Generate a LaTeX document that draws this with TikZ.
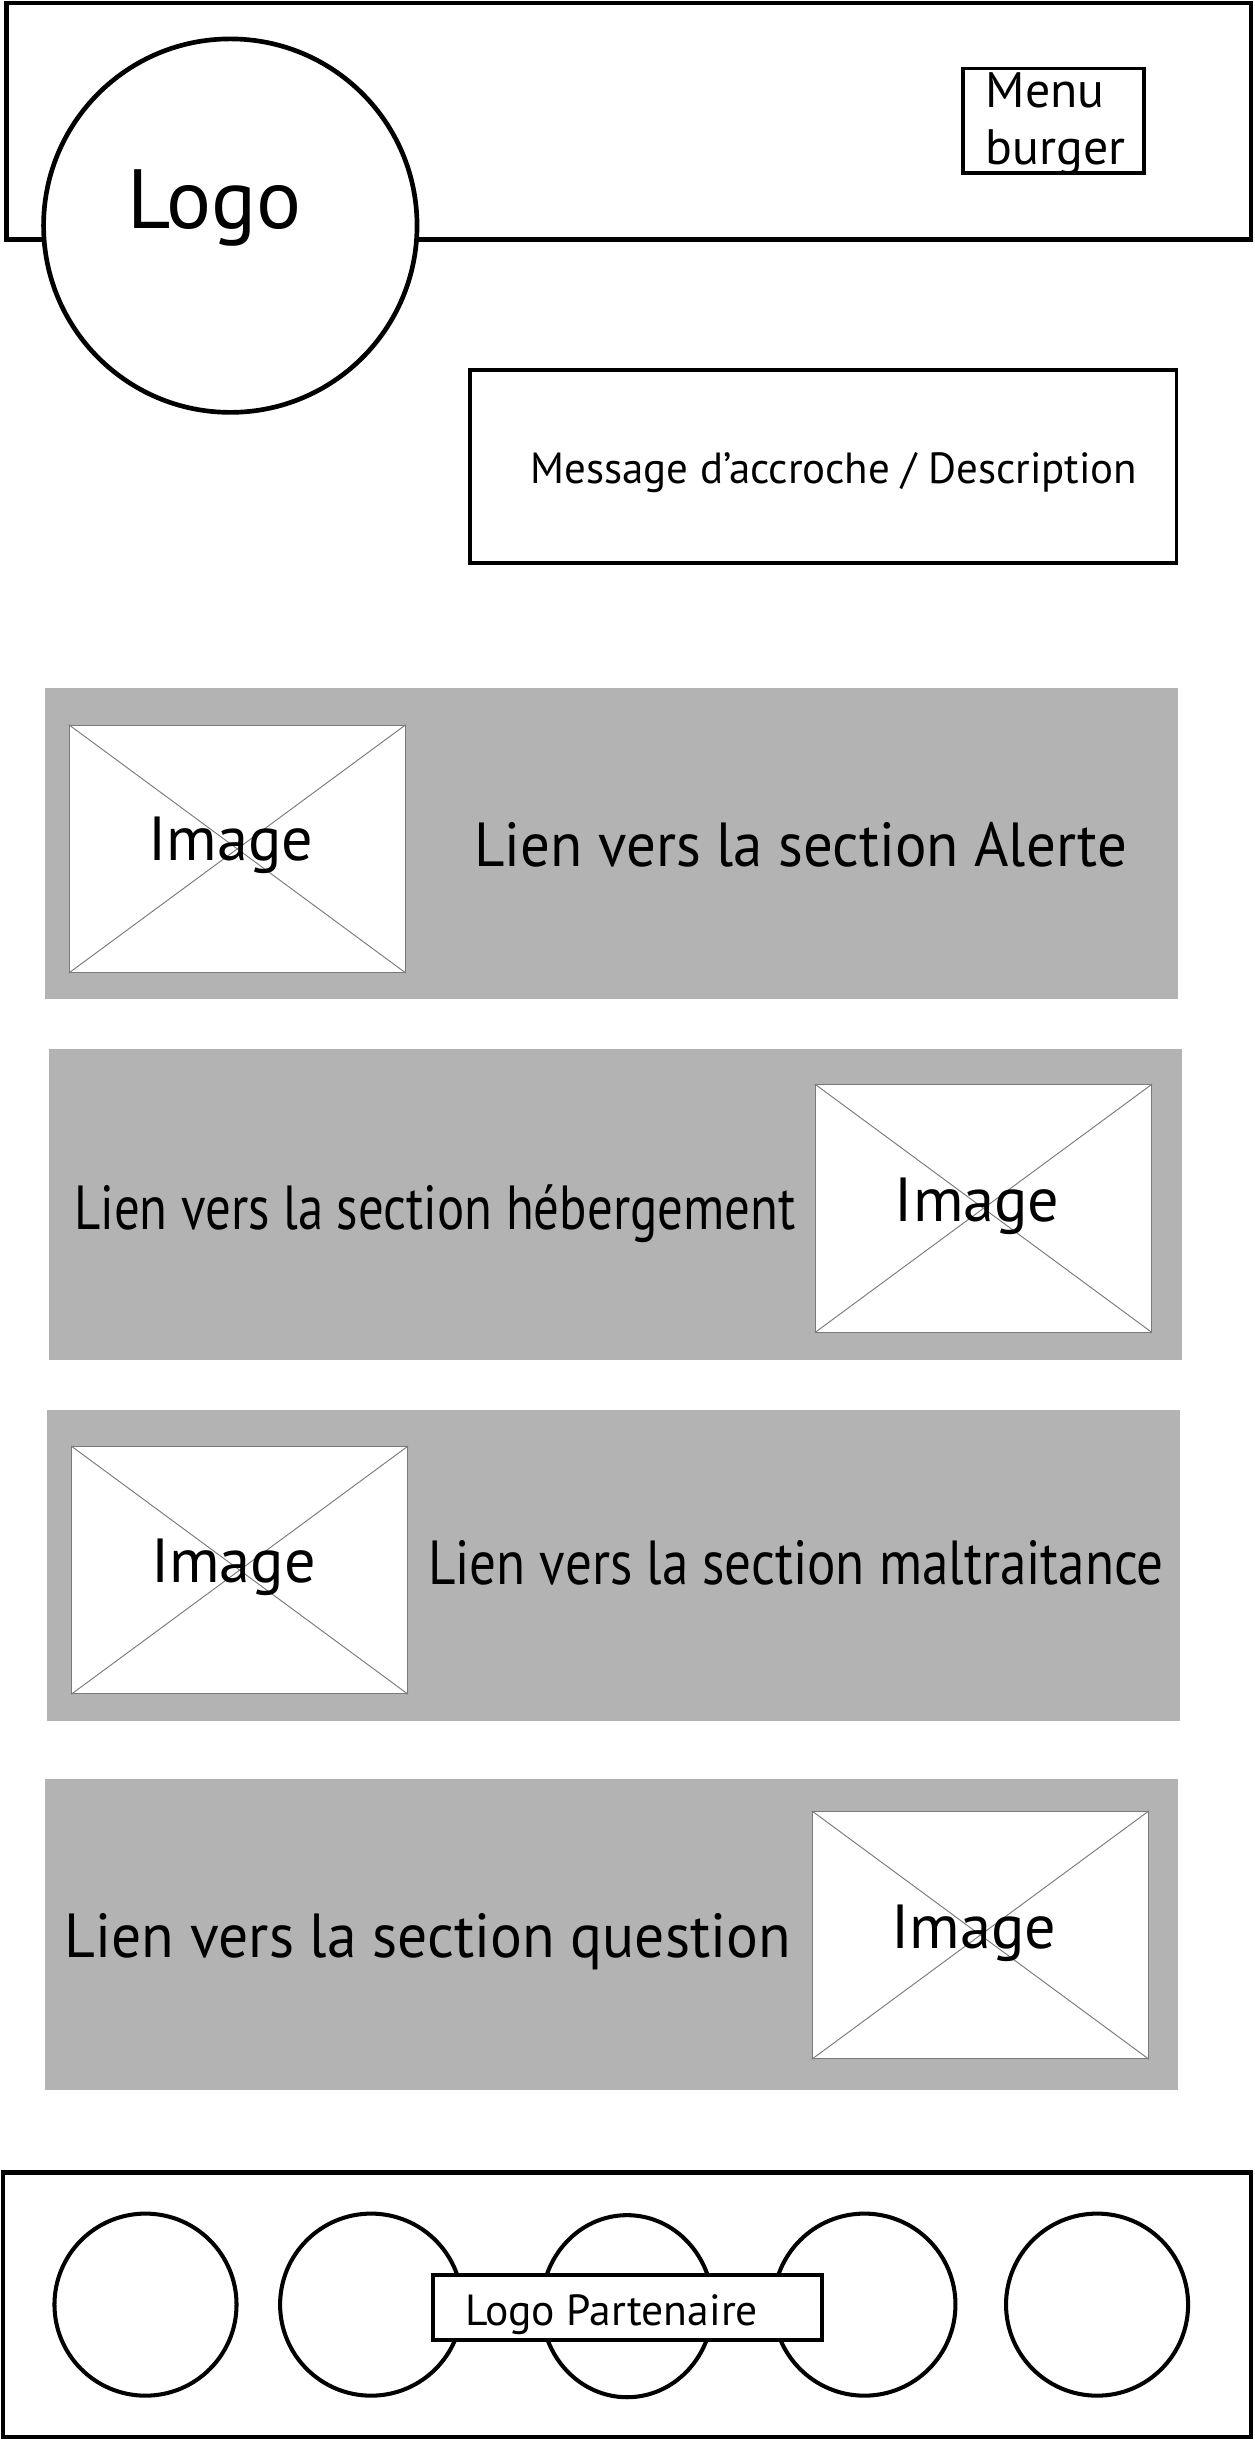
\documentclass[tikz,border=0pt]{standalone}
\usepackage{fontspec}
\setmainfont{PT Sans}
\usetikzlibrary{shapes.geometric}
\definecolor{bandgray}{HTML}{B3B3B3}
\definecolor{crossgray}{HTML}{7A7A7A}
\tikzstyle{frame} = [rectangle, draw=black, line width=1.5pt, inner sep=0pt]
\tikzstyle{logo} = [circle, draw=black, fill=white, line width=1.5pt, minimum size=120pt, inner sep=0pt]
\tikzstyle{textbox} = [rectangle, draw=black, fill=white, line width=1.25pt, inner sep=0pt]
\tikzstyle{band} = [rectangle, fill=bandgray, minimum width=364pt, minimum height=100pt, inner sep=0pt]
\tikzstyle{imgbox} = [rectangle, draw=crossgray, fill=white, line width=0.3pt, minimum width=108pt, minimum height=79.5pt, inner sep=0pt]
\tikzstyle{cross} = [draw=crossgray, line width=0.3pt]
\tikzstyle{partner} = [circle, draw=black, fill=white, line width=1.3pt, minimum size=58.5pt, inner sep=0pt]
\tikzstyle{caption} = [anchor=base, inner sep=0pt]
\tikzstyle{bigtext} = [caption, font=\fontsize{20}{24}\selectfont]

\begin{document}
\begin{tikzpicture}[x=0.5pt, y=-0.5pt]
        \useasboundingbox (0,0) rectangle (806,1568);

        % header
        \node (header) [frame, minimum width=400pt, minimum height=76pt] at (404,78) {};
        \node (logo) [logo] at (148,145) {};
        \node (logotext) [caption, font=\fontsize{27}{32}\selectfont] at (138,147) {Logo};
        \node (burger) [textbox, minimum width=58pt, minimum height=33.5pt] at (677,77.5) {};
        \node (burgertext) [anchor=north west, inner sep=0pt, align=left, font=\fontsize{16}{18.5}\selectfont] at (633,46) {Menu\\burger};

        \node (message) [textbox, minimum width=227pt, minimum height=62pt] at (529,300) {};
        \node (messagetext) [caption, font=\fontsize{14}{17}\selectfont\addfontfeatures{FakeStretch=0.985}] at (536,311) {Message d’accroche / Description};

        % section Alerte
        \node (alerte) [band] at (393,542) {};
        \node (img1) [imgbox] at (152.5,545.5) {};
        \draw [cross] (img1.north west) -- (img1.south east);
        \draw [cross] (img1.south west) -- (img1.north east);
        \node (img1text) [bigtext] at (148.5,553) {Image};
        \node (alertetext) [bigtext, font=\fontsize{20}{24}\selectfont\addfontfeatures{FakeStretch=0.946}] at (514.5,557) {Lien vers la section Alerte};

        % section hebergement
        \node (heberg) [band] at (395.5,774) {};
        \node (img2) [imgbox] at (632,776.5) {};
        \draw [cross] (img2.north west) -- (img2.south east);
        \draw [cross] (img2.south west) -- (img2.north east);
        \node (img2text) [bigtext] at (628,785) {Image};
        \node (hebergtext) [bigtext, font=\fontsize{20}{24}\selectfont\addfontfeatures{FakeStretch=0.817}] at (279.5,790) {Lien vers la section hébergement};

        % section maltraitance
        \node (maltr) [band] at (394.5,1006) {};
        \node (img3) [imgbox] at (154,1009) {};
        \draw [cross] (img3.north west) -- (img3.south east);
        \draw [cross] (img3.south west) -- (img3.north east);
        \node (img3text) [bigtext] at (150,1017) {Image};
        \node (maltrtext) [bigtext, font=\fontsize{20}{24}\selectfont\addfontfeatures{FakeStretch=0.853}] at (511.5,1018) {Lien vers la section maltraitance};

        % section question
        \node (question) [band] at (393,1243) {};
        \node (img4) [imgbox] at (630,1243.5) {};
        \draw [cross] (img4.north west) -- (img4.south east);
        \draw [cross] (img4.south west) -- (img4.north east);
        \node (img4text) [bigtext] at (626,1252) {Image};
        \node (questiontext) [bigtext, font=\fontsize{20}{24}\selectfont\addfontfeatures{FakeStretch=0.957}] at (275,1258) {Lien vers la section question};

        % footer
        \node (footer) [frame, minimum width=401pt, minimum height=85pt] at (403,1481) {};
        \node (partner1) [partner] at (93.5,1481) {};
        \node (partner2) [partner] at (238.5,1481) {};
        \node (partner3) [partner, ellipse, minimum width=55pt, minimum height=58.5pt] at (403,1482) {};
        \node (partner4) [partner] at (555.5,1481) {};
        \node (partner5) [partner] at (705,1481) {};
        \node (partnerbox) [textbox, minimum width=125pt, minimum height=21pt] at (403,1483) {};
        \node (partnertext) [caption, font=\fontsize{14}{17}\selectfont] at (393,1494.5) {Logo Partenaire};

\end{tikzpicture}
\end{document}
